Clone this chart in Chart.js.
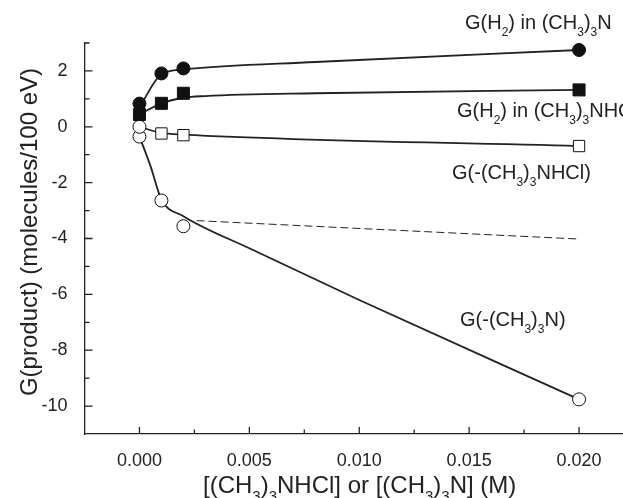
<!DOCTYPE html>
<html>
<head>
<meta charset="utf-8">
<script src="https://cdn.jsdelivr.net/npm/chart.js@4.4.1/dist/chart.umd.min.js"></script>
<style>
  html, body { margin: 0; padding: 0; background: #fff; }
  #wrap { width: 623px; height: 498px; position: relative; }
</style>
</head>
<body>
<div id="wrap"><canvas id="chart"></canvas></div>
<script>
// concentrations (M)
const conc = [0, 0.001, 0.002, 0.02];
// G values (molecules/100 eV)
const h2Amine = [0.83, 1.91, 2.09, 2.75];        // filled circles
const h2Salt = [0.44, 0.84, 1.2, 1.32];          // filled squares
const lossSalt = [0, -0.24, -0.3, -0.69];        // open squares (point at 0 drawn as circle)
const lossAmine = [-0.35, -2.64, -3.56, -9.76];  // open circles

// hand drawn curves
const fitAmineX = [0, 0.001, 0.002, 0.008, 0.02];
const fitAmineY = [0.7, 1.88, 2.05, 2.32, 2.75];
const fitSaltX = [0, 0.001, 0.002, 0.003, 0.008, 0.02];
const fitSaltY = [0.44, 0.84, 1.04, 1.1, 1.2, 1.32];
const fitLossSaltX = [0, 0.001, 0.002, 0.02];
const fitLossSaltY = [0, -0.22, -0.28, -0.69];
const fitLossAmineX = [0, 0.0005, 0.001, 0.002, 0.005, 0.01, 0.02];
const fitLossAmineY = [-0.35, -1.4, -2.6, -3.2, -4.35, -6.2, -9.76];
const dashX = [0.0026, 0.02];
const dashY = [-3.36, -4.02];

const xTickLabels = [0, 0.005, 0.01, 0.015, 0.02];
const yTickLabels = [2, 0, -2, -4, -6, -8, -10];

const FONT = '"Liberation Sans", Arial, sans-serif';
const INK = '#222';

const pts = (xs, ys) => xs.map((x, i) => ({ x: x, y: ys[i] }));
const isMajorX = v => xTickLabels.some(t => Math.abs(t - v) < 1e-7);

function curve(xs, ys, extra) {
    return Object.assign({
        data: pts(xs, ys),
        showLine: true,
        pointRadius: 0,
        borderColor: INK,
        borderWidth: 1.8,
        cubicInterpolationMode: 'monotone',
        order: 2
    }, extra || {});
}

function marks(ys, style, radius, fill) {
    return {
        data: pts(conc, ys),
        showLine: false,
        pointStyle: style,
        pointRadius: radius,
        pointBackgroundColor: fill,
        pointBorderColor: '#111',
        pointBorderWidth: 1,
        clip: false,
        order: 1
    };
}

// text with subscripts: parts starting with '_' are subscripts
function rich(ctx, parts, x, y, size) {
    const sub = Math.round(size * 0.62);
    let cx = x;
    parts.forEach(p => {
        const isSub = p.startsWith('_');
        const s = isSub ? p.slice(1) : p;
        ctx.font = (isSub ? sub : size) + 'px ' + FONT;
        ctx.fillText(s, cx, isSub ? y + size * 0.35 : y);
        cx += ctx.measureText(s).width;
    });
}

const decor = {
    id: 'decor',
    afterDraw(chart) {
        const { ctx, chartArea: a, scales: { x, y } } = chart;
        ctx.save();
        // inward tick marks
        ctx.strokeStyle = INK;
        ctx.lineWidth = 1.3;
        ctx.beginPath();
        y.ticks.forEach(t => {
            const py = y.getPixelForValue(t.value);
            if (Math.abs(py - a.bottom) < 1) return;
            const len = t.value % 2 === 0 ? 8 : 5;
            ctx.moveTo(a.left, py);
            ctx.lineTo(a.left + len, py);
        });
        x.ticks.forEach(t => {
            const px = x.getPixelForValue(t.value);
            if (px < a.left + 1 || px > a.right - 1) return;
            ctx.moveTo(px, a.bottom);
            ctx.lineTo(px, a.bottom - (isMajorX(t.value) ? 7 : 4.5));
        });
        ctx.stroke();

        // series labels
        ctx.fillStyle = INK;
        ctx.textAlign = 'left';
        ctx.textBaseline = 'alphabetic';
        rich(ctx, ['G(H', '_2', ') in (CH', '_3', ')', '_3', 'N'], 465, 29, 20);
        rich(ctx, ['G(H', '_2', ') in (CH', '_3', ')', '_3', 'NHCl'], 457, 117, 20);
        rich(ctx, ['G(-(CH', '_3', ')', '_3', 'NHCl)'], 452, 179, 20);
        rich(ctx, ['G(-(CH', '_3', ')', '_3', 'N)'], 460, 326, 20);

        // axis titles
        rich(ctx, ['[(CH', '_3', ')', '_3', 'NHCl] or [(CH', '_3', ')', '_3', 'N] (M)'], 203, 493, 24);
        ctx.translate(37, 232);
        ctx.rotate(-Math.PI / 2);
        ctx.textAlign = 'center';
        ctx.font = '24px ' + FONT;
        ctx.fillText('G(product) (molecules/100 eV)', 0, 0);
        ctx.restore();
    }
};

Chart.defaults.font.family = FONT;
Chart.defaults.color = INK;

new Chart(document.getElementById('chart'), {
    type: 'scatter',
    data: {
        datasets: [
            marks(h2Amine, 'circle', 6.5, '#111'),
            marks(h2Salt, 'rect', 8.5, '#111'),
            marks(lossSalt, ['circle', 'rect', 'rect', 'rect'], [6.5, 8, 8, 8], '#fff'),
            marks(lossAmine, 'circle', 6.5, '#fff'),
            curve(fitAmineX, fitAmineY),
            curve(fitSaltX, fitSaltY),
            curve(fitLossSaltX, fitLossSaltY),
            curve(fitLossAmineX, fitLossAmineY),
            curve(dashX, dashY, { borderWidth: 1, borderDash: [8, 4], cubicInterpolationMode: 'default', tension: 0 })
        ]
    },
    options: {
        responsive: true,
        maintainAspectRatio: false,
        animation: false,
        layout: { autoPadding: false, padding: { top: 43, right: 0, left: 0, bottom: 0 } },
        plugins: {
            legend: { display: false },
            tooltip: { enabled: false }
        },
        scales: {
            x: {
                type: 'linear',
                min: -0.0025,
                max: 0.022,
                grid: { display: false },
                border: { display: true, color: INK, width: 1.3 },
                ticks: {
                    stepSize: 0.0025,
                    includeBounds: false,
                    autoSkip: false,
                    maxRotation: 0,
                    padding: 8,
                    font: { size: 18 },
                    callback: v => isMajorX(v) ? v.toFixed(3) : ''
                },
                afterFit: s => {
                    s.height = 64;
                    s.paddingLeft = 0;
                    s.paddingRight = 0;
                }
            },
            y: {
                min: -11,
                max: 3,
                grid: { display: false },
                border: { display: true, color: INK, width: 1.3 },
                ticks: {
                    stepSize: 1,
                    autoSkip: false,
                    padding: 9,
                    font: { size: 18 },
                    callback: v => yTickLabels.includes(v) ? String(v) : ''
                },
                afterFit: s => {
                    s.width = 84.5;
                    s.paddingTop = 0;
                    s.paddingBottom = 0;
                }
            }
        }
    },
    plugins: [decor]
});
</script>
</body>
</html>
